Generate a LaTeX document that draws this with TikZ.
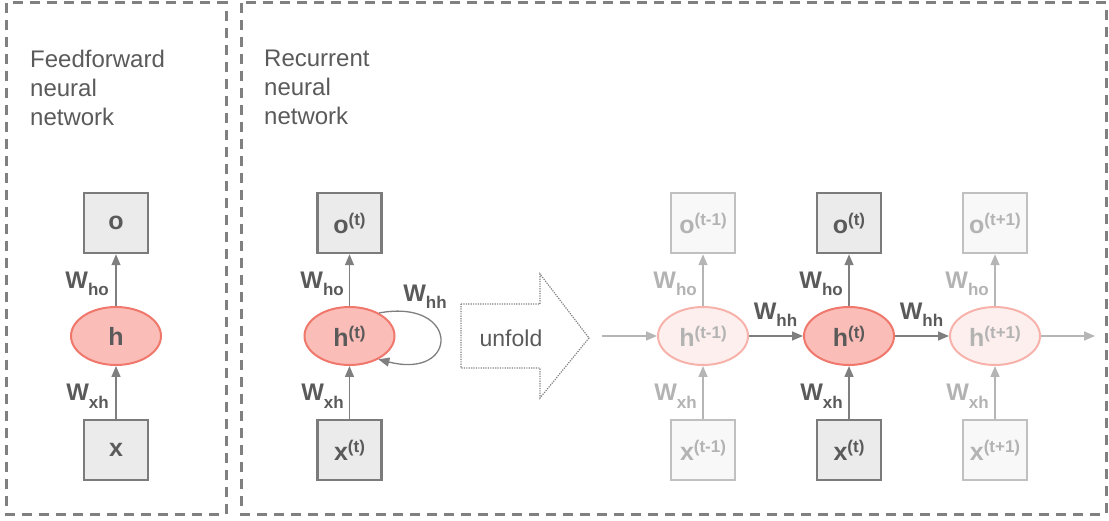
\documentclass[tikz,border=0pt]{standalone}
\usepackage{fontspec}
\setmainfont{Liberation Sans}
\usetikzlibrary{arrows.meta,shapes.geometric}

\definecolor{ink}{HTML}{5A5A5A}
\definecolor{inkfade}{HTML}{B3B3B3}
\definecolor{framegray}{HTML}{808080}
\definecolor{boxfill}{HTML}{EBEBEB}
\definecolor{boxline}{HTML}{7B7B7B}
\definecolor{boxfillfade}{HTML}{F8F8F8}
\definecolor{boxlinefade}{HTML}{C0C0C0}
\definecolor{hidfill}{HTML}{FBBDB7}
\definecolor{hidline}{HTML}{F0776B}
\definecolor{hidfillfade}{HTML}{FDEFED}
\definecolor{hidlinefade}{HTML}{F7B3AB}
\definecolor{wire}{HTML}{7F7F7F}
\definecolor{wirefade}{HTML}{B5B5B5}

% superscript time index and subscripted weight names
\newcommand{\tsup}[2]{#1\raisebox{8pt}{\fontsize{17}{17}\selectfont #2}}
\newcommand{\wsub}[1]{W\raisebox{-7pt}{\fontsize{17}{17}\selectfont #1}}

\tikzset{
  frame/.style={draw=framegray, line width=3pt, dash pattern=on 10pt off 7pt},
  caption/.style={anchor=north west, inner sep=0pt, align=left, text=ink,
    font=\fontsize{24}{29}\selectfont},
  unit/.style={rectangle, minimum width=64pt, minimum height=60pt, inner sep=0pt,
    line width=2.5pt, font=\fontsize{25}{25}\selectfont\bfseries},
  vbox/.style={unit, draw=boxline, fill=boxfill, text=ink},
  vboxfade/.style={unit, draw=boxlinefade, fill=boxfillfade, text=inkfade},
  hid/.style={ellipse, minimum width=90pt, minimum height=58pt, inner sep=0pt,
    line width=2pt, draw=hidline, fill=hidfill, text=ink,
    font=\fontsize{25}{25}\selectfont\bfseries},
  hidfade/.style={hid, draw=hidlinefade, fill=hidfillfade, text=inkfade},
  conn/.style={draw=wire, line width=1.5pt, -{Triangle[length=11pt,width=9pt]}},
  connfade/.style={conn, draw=wirefade},
  wlab/.style={anchor=base east, inner sep=0pt, text=ink,
    font=\fontsize{24}{24}\selectfont\bfseries},
  wlabfade/.style={wlab, text=inkfade},
  hlab/.style={anchor=base, inner sep=0pt, text=ink,
    font=\fontsize{24}{24}\selectfont\bfseries},
  unfoldarrow/.style={draw=wire, line width=1.2pt, dash pattern=on 1.2pt off 1.2pt},
}

\begin{document}
\begin{tikzpicture}[x=1pt, y=-1pt]
  \useasboundingbox (0,0) rectangle (1109,521);

  % the two panels
  \draw[frame] (6,3) rectangle (226,514);
  \draw[frame] (241,3) rectangle (1106,514);

  \node[caption] (capff) at (30,50) {Feedforward\\neural\\network};
  \node[caption] (caprnn) at (264,50) {Recurrent\\neural\\network};

  % feedforward network
  \node[vbox] (ffo) at (116,223) {o};
  \node[hid]  (ffh) at (116,336) {h};
  \node[vbox] (ffx) at (116,450) {x};
  \draw[conn] (ffx) -- (ffh);
  \draw[conn] (ffh) -- (ffo);
  \node[wlab] (ffwho) at (109,289) {\wsub{ho}};
  \node[wlab] (ffwxh) at (109,401) {\wsub{xh}};

  % folded recurrent network
  \node[vbox] (ro) at (349.5,223) {\tsup{o}{(t)}};
  \node[hid]  (rh) at (349.5,336) {\tsup{h}{(t)}};
  \node[vbox] (rx) at (349.5,450) {\tsup{x}{(t)}};
  \draw[conn] (rx) -- (rh);
  \draw[conn] (rh) -- (ro);
  \draw[draw=wire, line width=1.3pt, -{Triangle[length=11pt,width=9pt]}]
    (rh.38) .. controls (460,298) and (460,380) .. (rh.-39);
  \node[wlab] (rwho) at (344,289) {\wsub{ho}};
  \node[wlab] (rwxh) at (344,401) {\wsub{xh}};
  \node[hlab] (rwhh) at (425,302) {\wsub{hh}};

  % unfold arrow
  \draw[unfoldarrow] (461,304) -- (540,304) -- (540,274) -- (589,338)
    -- (540,398) -- (540,368) -- (461,368) -- cycle;
  \node[text=ink, font=\fontsize{23}{23}\selectfont] (unf) at (511,338) {unfold};

  % unfolded recurrent network
  \node[vboxfade] (o1) at (703,223) {\tsup{o}{(t-1)}};
  \node[vbox]     (o2) at (849,223) {\tsup{o}{(t)}};
  \node[vboxfade] (o3) at (995,223) {\tsup{o}{(t+1)}};
  \node[hidfade]  (h1) at (703,336) {\tsup{h}{(t-1)}};
  \node[hid]      (h2) at (849,336) {\tsup{h}{(t)}};
  \node[hidfade]  (h3) at (995,336) {\tsup{h}{(t+1)}};
  \node[vboxfade] (x1) at (703,450) {\tsup{x}{(t-1)}};
  \node[vbox]     (x2) at (849,450) {\tsup{x}{(t)}};
  \node[vboxfade] (x3) at (995,450) {\tsup{x}{(t+1)}};

  \coordinate (hin) at (602,336);
  \coordinate (hout) at (1095,336);

  \draw[connfade] (x1) -- (h1);
  \draw[connfade] (h1) -- (o1);
  \draw[conn]     (x2) -- (h2);
  \draw[conn]     (h2) -- (o2);
  \draw[connfade] (x3) -- (h3);
  \draw[connfade] (h3) -- (o3);

  \draw[connfade] (hin) -- (h1);
  \draw[conn]     (h1) -- (h2);
  \draw[conn]     (h2) -- (h3);
  \draw[connfade] (h3) -- (hout);

  \node[wlabfade] (who1) at (697,289) {\wsub{ho}};
  \node[wlab]     (who2) at (843,289) {\wsub{ho}};
  \node[wlabfade] (who3) at (989,289) {\wsub{ho}};
  \node[wlabfade] (wxh1) at (697,401) {\wsub{xh}};
  \node[wlab]     (wxh2) at (843,401) {\wsub{xh}};
  \node[wlabfade] (wxh3) at (989,401) {\wsub{xh}};
  \node[hlab] (whh1) at (775.5,320) {\wsub{hh}};
  \node[hlab] (whh2) at (921.5,320) {\wsub{hh}};
\end{tikzpicture}
\end{document}
